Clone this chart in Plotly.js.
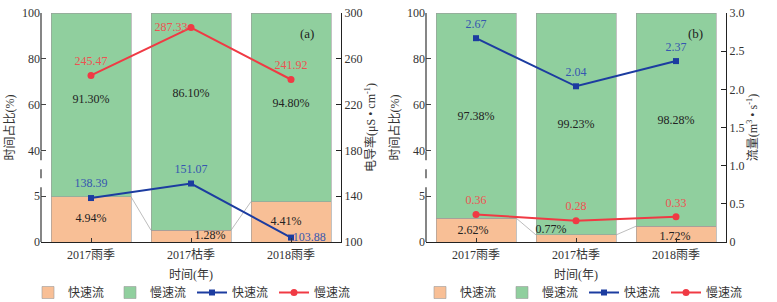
<!DOCTYPE html>
<html>
<head>
<meta charset="utf-8">
<script src="https://cdn.plot.ly/plotly-3.0.1.min.js"></script>
<style>html,body{margin:0;padding:0;background:#fff;}#chart{width:777px;height:302px;}</style>
</head>
<body>
<div id="chart"></div>
<script>
// ---------- data ----------
const seasons = ['2017雨季', '2017枯季', '2018雨季'];
const leftTickValues = [0, 5, 40, 60, 80, 100];
// panel (a)
const fastPctA = [4.94, 1.28, 4.41];
const slowPctA = [91.30, 86.10, 94.80];
const ecFastA = [138.39, 151.07, 103.88];
const ecSlowA = [245.47, 287.33, 241.92];
// panel (b)
const fastPctB = [2.62, 0.77, 1.72];
const slowPctB = [97.38, 99.23, 98.28];
const qFastB = [2.67, 2.04, 2.37];
const qSlowB = [0.36, 0.28, 0.33];
const fullPct = 100;

// ---------- broken left axis: 0-5 bottom segment, 40-100 upper segments ----------
function brk(v) { return v <= 5 ? v / 5 : 2 + (v - 40) / 20; }

const FONT = '"Liberation Serif", "Times New Roman", "Noto Sans CJK SC", serif';
const ORANGE = '#F8BF96', GREEN = '#90CF9E', BLUE = '#1C3CA0', RED = '#F03A44';
const BLUE_T = '#3556B0', RED_T = '#EE5252';
const idx = [0, 1, 2];
const BW = 0.8;

function panel(xa, ya, ya2, leg, fast, slow, lineFast, lineSlow, opts) {
  const tr = [];
  tr.push({type: 'bar', x: idx, y: fast.map(brk), xaxis: xa, yaxis: ya, name: '快速流', legend: leg,
    marker: {color: ORANGE, line: {color: '#9a9a9a', width: 0.6}}, width: BW, hoverinfo: 'skip'});
  tr.push({type: 'bar', x: idx, y: fast.map(v => brk(fullPct) - brk(v)), xaxis: xa, yaxis: ya, name: '慢速流', legend: leg,
    marker: {color: GREEN, line: {color: '#9a9a9a', width: 0.6}}, width: BW, hoverinfo: 'skip'});
  // connector lines between fast-flow bar tops
  const cx = [], cy = [];
  for (let i = 0; i < fast.length - 1; i++) {
    cx.push(i + BW / 2, i + 1 - BW / 2, null);
    cy.push(brk(fast[i]), brk(fast[i + 1]), null);
  }
  tr.push({type: 'scatter', mode: 'lines', x: cx, y: cy, xaxis: xa, yaxis: ya, showlegend: false,
    line: {color: '#a0a0a0', width: 0.7}, hoverinfo: 'skip'});
  // bar labels
  tr.push({type: 'scatter', mode: 'text', x: idx.map((i, k) => i + opts.fastDx[k]), y: opts.fastLabelY,
    text: fast.map(v => v.toFixed(2) + '%'), xaxis: xa, yaxis: ya, showlegend: false,
    textfont: {family: FONT, size: 12, color: '#222'}, hoverinfo: 'skip'});
  tr.push({type: 'scatter', mode: 'text', x: idx, y: opts.slowLabelY,
    text: slow.map(v => v.toFixed(2) + '%'), xaxis: xa, yaxis: ya, showlegend: false,
    textfont: {family: FONT, size: 12, color: '#222'}, hoverinfo: 'skip'});
  // lines
  tr.push({type: 'scatter', mode: 'lines+markers', x: idx, y: lineFast, xaxis: xa, yaxis: ya2, name: '快速流', legend: leg,
    line: {color: BLUE, width: 2}, marker: {symbol: 'square', size: 6, color: BLUE}, hoverinfo: 'skip'});
  tr.push({type: 'scatter', mode: 'lines+markers', x: idx, y: lineSlow, xaxis: xa, yaxis: ya2, name: '慢速流', legend: leg,
    line: {color: RED, width: 2}, marker: {symbol: 'circle', size: 7, color: RED}, hoverinfo: 'skip'});
  // value labels (invisible markers only set the label offset)
  tr.push({type: 'scatter', mode: 'markers+text', x: idx, y: lineFast, text: lineFast.map(v => v.toFixed(2)),
    textposition: opts.fastPos, xaxis: xa, yaxis: ya2, showlegend: false,
    marker: {size: opts.fastGap, opacity: 0}, cliponaxis: false,
    textfont: {family: FONT, size: 12, color: BLUE_T}, hoverinfo: 'skip'});
  tr.push({type: 'scatter', mode: 'markers+text', x: idx, y: lineSlow, text: lineSlow.map(v => v.toFixed(2)),
    textposition: opts.slowPos, xaxis: xa, yaxis: ya2, showlegend: false,
    marker: {size: opts.slowGap, opacity: 0}, cliponaxis: false,
    textfont: {family: FONT, size: 12, color: RED_T}, hoverinfo: 'skip'});
  return tr;
}

const data = [].concat(
  panel('x', 'y', 'y2', 'legend', fastPctA, slowPctA, ecFastA, ecSlowA, {
    fastDx: [0, 0.19, -0.05], fastLabelY: fastPctA.map(v => brk(v) / 2),
    slowLabelY: [3.10, 3.23, 3.01],
    fastPos: ['top center', 'top center', 'middle right'], fastGap: [11, 11, 1],
    slowPos: ['top center', 'middle left', 'top center'], slowGap: [11, 4, 11]
  }),
  panel('x2', 'y3', 'y4', 'legend2', fastPctB, slowPctB, qFastB, qSlowB, {
    fastDx: [-0.03, -0.25, -0.01], fastLabelY: [0.24, 0.26, 0.11],
    slowLabelY: [2.73, 2.55, 2.64],
    fastPos: ['top center', 'top center', 'top center'], fastGap: [10, 10, 10],
    slowPos: ['top center', 'top center', 'top center'], slowGap: [10, 10, 10]
  })
);

const W = 777, H = 302;
const yDom = [1 - 242 / H, 1 - 13 / H];
const domA = [41 / W, 341 / W], domB = [426 / W, 726 / W];
const tickFont = {family: FONT, size: 12, color: '#333'};
const titleFont = {family: FONT, size: 12, color: '#333'};

function xAxis(dom, anchor) {
  return {domain: dom, anchor: anchor, range: [-0.5, 2.5], tickvals: idx, ticktext: seasons,
    ticks: 'inside', ticklen: 4, tickcolor: '#333', showline: true, linecolor: '#222', linewidth: 1.2,
    showgrid: false, zeroline: false, tickfont: tickFont, automargin: false, ticklabelstandoff: 1,
    title: {text: '时间(年)', font: titleFont, standoff: 10}};
}
function leftAxis(anchor) {
  return {domain: yDom, anchor: anchor, range: [0, brk(fullPct)], tickvals: leftTickValues.map(brk),
    ticktext: leftTickValues.map(String), ticks: 'inside', ticklen: 5, tickcolor: '#444',
    showline: false, showgrid: false, zeroline: false, tickfont: tickFont, automargin: false,
    title: {text: '时间占比(%)', font: titleFont, standoff: 4}};
}

const legendBase = {orientation: 'h', xanchor: 'left', y: -5 / H, yanchor: 'bottom',
  entrywidth: 37, entrywidthmode: 'pixels', traceorder: 'normal',
  font: {family: FONT, size: 12, color: '#333'}, bgcolor: 'rgba(0,0,0,0)'};

const layout = {
  width: W, height: H, margin: {l: 0, r: 0, t: 0, b: 0, autoexpand: false},
  paper_bgcolor: '#fff', plot_bgcolor: 'rgba(0,0,0,0)',
  barmode: 'stack', showlegend: true,
  font: {family: FONT, size: 12, color: '#333'},
  xaxis: xAxis(domA, 'y'),
  xaxis2: xAxis(domB, 'y3'),
  yaxis: leftAxis('x'),
  yaxis3: leftAxis('x2'),
  yaxis2: {overlaying: 'y', side: 'right', anchor: 'x', range: [100, 300], tick0: 100, dtick: 40,
    ticks: 'inside', ticklen: 5, tickcolor: '#222', showline: true, linecolor: '#222', linewidth: 1.2,
    showgrid: false, zeroline: false, tickfont: tickFont, automargin: false,
    title: {text: '电导率(μS • cm<sup>-1</sup>)', font: titleFont, standoff: 2}},
  yaxis4: {overlaying: 'y3', side: 'right', anchor: 'x2', range: [0, 3],
    tickvals: [0, 0.5, 1, 1.5, 2, 2.5, 3], ticktext: ['0', '0.5', '1.0', '1.5', '2.0', '2.5', '3.0'],
    ticks: 'inside', ticklen: 5, tickcolor: '#222', showline: true, linecolor: '#222', linewidth: 1.2,
    showgrid: false, zeroline: false, tickfont: tickFont, automargin: false,
    title: {text: '流量(m<sup>3</sup> • s<sup>-1</sup>)', font: titleFont, standoff: 2}},
  legend: Object.assign({}, legendBase, {x: 28 / W}),
  legend2: Object.assign({}, legendBase, {x: 420 / W}),
  annotations: [
    {xref: 'x domain', yref: 'y domain', x: 0.917, y: 0.95, text: '(a)', showarrow: false,
      font: {family: FONT, size: 13, color: '#222'}},
    {xref: 'x2 domain', yref: 'y3 domain', x: 0.93, y: 0.95, text: '(b)', showarrow: false,
      font: {family: FONT, size: 13, color: '#222'}}
  ],
  shapes: []
};

[['x domain', 'y'], ['x2 domain', 'y3']].forEach(([xr, yr]) => {
  const segs = [[0, 5, 'solid'], [5, 40, 'dash'], [40, 100, 'solid']];
  segs.forEach(([a, b, d]) => layout.shapes.push({type: 'line', xref: xr, yref: yr, x0: 0, x1: 0,
    y0: brk(a), y1: brk(b), line: {color: '#444', width: 1.3, dash: d}}));
});

Plotly.newPlot('chart', data, layout, {staticPlot: true, displayModeBar: false});
</script>
</body>
</html>
